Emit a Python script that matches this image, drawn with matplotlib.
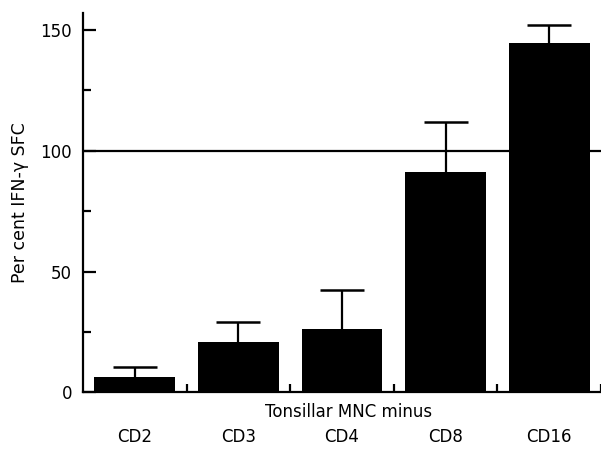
import matplotlib
matplotlib.use("Agg")
import matplotlib.pyplot as plt
import numpy as np

categories = ["CD2", "CD3", "CD4", "CD8", "CD16"]
values = [6.4, 20.9, 26.2, 91.0, 144.5]
upper_err = [4.2, 8.0, 16.1, 21.0, 7.5]

plt.rcParams['font.family'] = ['DejaVu Sans']

fig = plt.figure(figsize=(6.01, 4.51), dpi=100)
ax = fig.add_axes([83/601, 1 - 392.3/451, (601 - 83)/601, (392.3 - 13)/451])

x = np.arange(len(categories))
vals = np.array(values)
tops = vals + np.array(upper_err)
ax.bar(x, vals, width=0.78, color='black', zorder=3)
ax.vlines(x, vals, tops, color='black', lw=1.6, zorder=2)
ax.plot(x, tops, linestyle='none', marker='_', markersize=31,
        markeredgewidth=1.8, color='black', zorder=2)

ax.axhline(100, color='black', lw=1.6, zorder=1)

ax.set_xlim(-0.5, -0.5 + (601 - 83) / 105.5)
ax.set_ylim(0, 157)

for s in ['top', 'right']:
    ax.spines[s].set_visible(False)
for s in ['left', 'bottom']:
    ax.spines[s].set_linewidth(1.6)

ax.set_yticks([0, 50, 100, 150])
ax.set_yticks([25, 75, 125], minor=True)
ax.tick_params(axis='y', which='major', direction='in', length=9, width=1.6,
               labelsize=12, pad=8)
ax.tick_params(axis='y', which='minor', direction='in', length=6, width=1.6)

ax.set_xticks(x)
ax.set_xticklabels(categories)
ax.set_xticks(np.arange(len(categories)) + 0.5, minor=True)
ax.tick_params(axis='x', which='major', length=0, labelsize=12, pad=26)
ax.tick_params(axis='x', which='minor', direction='in', length=6, width=1.6)

ax.set_ylabel("Per cent IFN-\u03b3 SFC", fontsize=12.5, labelpad=8)
fig.text(349/601, 1 - 412/451, "Tonsillar MNC minus", ha='center', va='center',
         fontsize=12)

fig.savefig("out.png", dpi=100)
